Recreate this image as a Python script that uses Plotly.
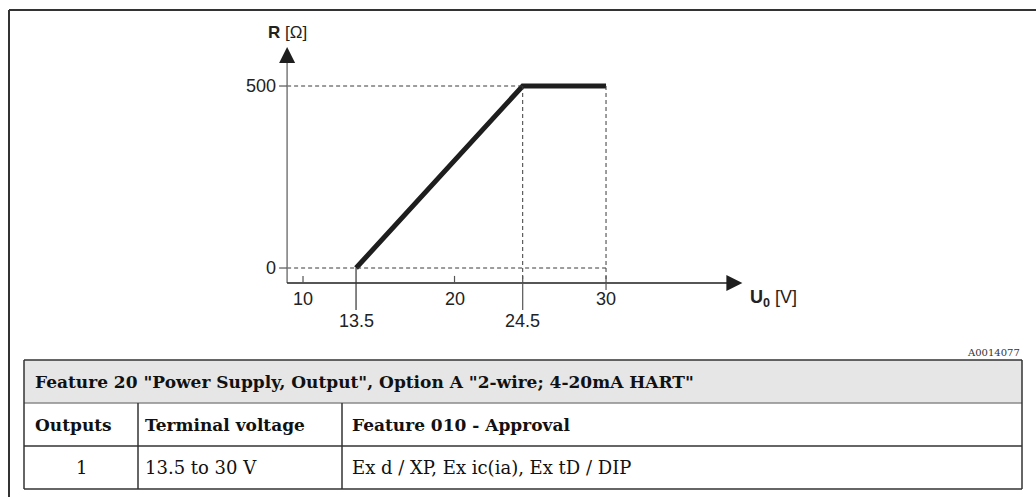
import plotly.graph_objects as go

# ---------------- data ----------------
U_POINTS = [13.5, 24.5, 30]          # supply voltage U0 [V]
R_POINTS = [0, 500, 500]             # max load R [Ohm]
X_TICKS = [10, 20, 30]
X_MARKED = [13.5, 24.5]
Y_TICKS = [0, 500]

TABLE_TITLE = 'Feature 20 "Power Supply, Output", Option A "2-wire; 4-20mA HART"'
TABLE_HEAD = ["Outputs", "Terminal voltage", "Feature 010 - Approval"]
TABLE_ROW = ["1", "13.5 to 30 V", "Ex d / XP, Ex ic(ia), Ex tD / DIP"]
FIG_CODE = "A0014077"

# ---------------- layout constants ----------------
W, H = 1036, 497
AXIS_X = 8.95      # U value where the R axis is drawn
AXIS_Y = -41       # R value where the U axis is drawn
X_END = 39.0       # arrow tip of U axis
Y_END = 607        # arrow tip of R axis
X_RANGE = [-10.0, 58.38]
Y_RANGE = [-629.1, 736.3]

DARK = "#1e1e1e"
GREY = "#7a7a7a"
SANS = "Liberation Sans, Arial, sans-serif"
SERIF = "DejaVu Serif, serif"
TXT = "#222222"


def px(x):
    return x / W


def py(y):
    return 1 - y / H


fig = go.Figure()

# main characteristic line
fig.add_trace(go.Scatter(x=U_POINTS, y=R_POINTS, mode="lines",
                         line=dict(color=DARK, width=5),
                         hoverinfo="skip"))

shapes = []
ann = []

r_max = max(R_POINTS)
u_knee = U_POINTS[R_POINTS.index(r_max)]
u_min = U_POINTS[0]
u_max = U_POINTS[-1]
dash = dict(color="#3a3a3a", width=1, dash="4px,3px")

# dashed guide lines
shapes.append(dict(type="line", xref="x", yref="y", x0=AXIS_X, x1=u_knee,
                   y0=r_max, y1=r_max, line=dash))
shapes.append(dict(type="line", xref="x", yref="y", x0=AXIS_X, x1=u_max,
                   y0=R_POINTS[0], y1=R_POINTS[0], line=dash))
shapes.append(dict(type="line", xref="x", yref="y", x0=u_knee, x1=u_knee,
                   y0=r_max, y1=AXIS_Y, line=dash))
shapes.append(dict(type="line", xref="x", yref="y", x0=u_max, x1=u_max,
                   y0=r_max, y1=AXIS_Y, line=dash))

# axes lines
shapes.append(dict(type="line", xref="x", yref="y", x0=AXIS_X, x1=AXIS_X,
                   y0=AXIS_Y, y1=Y_END - 30, line=dict(color=GREY, width=1.5)))
shapes.append(dict(type="line", xref="x", yref="y", x0=AXIS_X, x1=X_END - 1,
                   y0=AXIS_Y, y1=AXIS_Y, line=dict(color=DARK, width=1.5)))
# arrow heads
shapes.append(dict(type="path", xref="x", yref="y", xsizemode="pixel",
                   ysizemode="pixel", xanchor=AXIS_X, yanchor=Y_END,
                   path="M -8 -16 L 8 -16 L 0 0 Z", fillcolor=DARK,
                   line=dict(width=0)))
shapes.append(dict(type="path", xref="x", yref="y", xsizemode="pixel",
                   ysizemode="pixel", xanchor=X_END, yanchor=AXIS_Y,
                   path="M -16 -8 L -16 8 L 0 0 Z", fillcolor=DARK,
                   line=dict(width=0)))

# x ticks
for v in X_TICKS:
    y0 = -7 if v == u_max else 0
    shapes.append(dict(type="line", xref="x", yref="y", ysizemode="pixel",
                       yanchor=AXIS_Y, x0=v, x1=v, y0=y0, y1=7,
                       line=dict(color="#555555", width=1.2)))
    ann.append(dict(x=v, y=AXIS_Y, xref="x", yref="y", text=str(v),
                    showarrow=False, yshift=-16, yanchor="middle",
                    font=dict(family=SANS, size=18, color=TXT)))
for v in X_MARKED:
    if v == u_min:
        shapes.append(dict(type="line", xref="x", yref="y", ysizemode="pixel",
                           yanchor=R_POINTS[0], x0=v, x1=v, y0=0, y1=-42,
                           line=dict(color="#333333", width=1.2)))
    else:
        shapes.append(dict(type="line", xref="x", yref="y", ysizemode="pixel",
                           yanchor=AXIS_Y, x0=v, x1=v, y0=7, y1=-27,
                           line=dict(color="#555555", width=1.2)))
    ann.append(dict(x=v, y=AXIS_Y, xref="x", yref="y", text=str(v),
                    showarrow=False, yshift=-38, yanchor="middle",
                    font=dict(family=SANS, size=18, color=TXT)))

# y ticks
for v in Y_TICKS:
    shapes.append(dict(type="line", xref="x", yref="y", xsizemode="pixel",
                       xanchor=AXIS_X, x0=-8, x1=0, y0=v, y1=v,
                       line=dict(color="#555555", width=1.2)))
    ann.append(dict(x=AXIS_X, y=v, xref="x", yref="y", text=str(v),
                    showarrow=False, xanchor="right", xshift=-9,
                    yanchor="middle",
                    font=dict(family=SANS, size=18, color=TXT)))

# axis titles
ann.append(dict(x=AXIS_X, y=Y_END, xref="x", yref="y", text="<b>R</b> [Ω]",
                showarrow=False, yshift=15, yanchor="middle",
                font=dict(family=SANS, size=17, color=TXT)))
ann.append(dict(x=X_END, y=AXIS_Y, xref="x", yref="y",
                text="<b>U<sub>0</sub></b> [V]", showarrow=False,
                xanchor="left", xshift=6, yshift=-16, yanchor="middle",
                font=dict(family=SANS, size=18, color=TXT)))

# figure code
ann.append(dict(x=px(1022), y=py(352), xref="paper", yref="paper",
                text=FIG_CODE, showarrow=False, xanchor="right",
                yanchor="middle",
                font=dict(family=SERIF, size=10, color="#333333")))

# outer frame
shapes.append(dict(type="line", xref="paper", yref="paper", x0=px(9), x1=px(W),
                   y0=py(10), y1=py(10), line=dict(color="#333333", width=2)))
shapes.append(dict(type="line", xref="paper", yref="paper", x0=px(9), x1=px(9),
                   y0=py(10), y1=py(H), line=dict(color="#333333", width=2)))

# table
TL, TR = 24, 1022
COLS = [24, 138, 342, 1022]
ROWS = [360, 403, 446, 489]
TEXT_X = [33, 143, 350]
shapes.append(dict(type="rect", xref="paper", yref="paper", x0=px(TL), x1=px(TR),
                   y0=py(ROWS[0]), y1=py(ROWS[1]), fillcolor="#e6e6e6",
                   line=dict(width=0), layer="below"))
for r in ROWS:
    col = "#8a8a8a" if r == ROWS[1] else "#333333"
    shapes.append(dict(type="line", xref="paper", yref="paper", x0=px(TL), x1=px(TR),
                       y0=py(r), y1=py(r), line=dict(color=col, width=1.5)))
for i, c in enumerate(COLS):
    top = ROWS[0] if i in (0, len(COLS) - 1) else ROWS[1]
    shapes.append(dict(type="line", xref="paper", yref="paper", x0=px(c), x1=px(c),
                       y0=py(top), y1=py(ROWS[-1]),
                       line=dict(color="#333333", width=1.5)))

ann.append(dict(x=px(TEXT_X[0]), y=py((ROWS[0] + ROWS[1]) / 2), xref="paper",
                yref="paper", text="<b>" + TABLE_TITLE + "</b>", showarrow=False,
                xanchor="left", yanchor="middle",
                font=dict(family=SERIF, size=17, color="#111111")))
for i, t in enumerate(TABLE_HEAD):
    ann.append(dict(x=px(TEXT_X[i]), y=py((ROWS[1] + ROWS[2]) / 2),
                    xref="paper", yref="paper", text="<b>" + t + "</b>",
                    showarrow=False, xanchor="left", yanchor="middle",
                    font=dict(family=SERIF, size=17, color="#111111")))
for i, t in enumerate(TABLE_ROW):
    if i == 0:
        xx, xa = px((COLS[0] + COLS[1]) / 2), "center"
    else:
        xx, xa = px(TEXT_X[i]), "left"
    ann.append(dict(x=xx, y=py((ROWS[2] + ROWS[3]) / 2), xref="paper", yref="paper",
                    text=t, showarrow=False, xanchor=xa, yanchor="middle",
                    font=dict(family=SERIF, size=18, color="#111111")))

fig.update_layout(
    width=W, height=H, autosize=False,
    margin=dict(l=0, r=0, t=0, b=0),
    paper_bgcolor="white", plot_bgcolor="white",
    showlegend=False,
    xaxis=dict(range=X_RANGE, visible=False, fixedrange=True),
    yaxis=dict(range=Y_RANGE, visible=False, fixedrange=True),
    shapes=shapes, annotations=ann,
)

fig.write_html("out.html", config={"displayModeBar": False},
               post_script="document.body.style.margin='0';"
                           "document.body.style.overflow='hidden';")
